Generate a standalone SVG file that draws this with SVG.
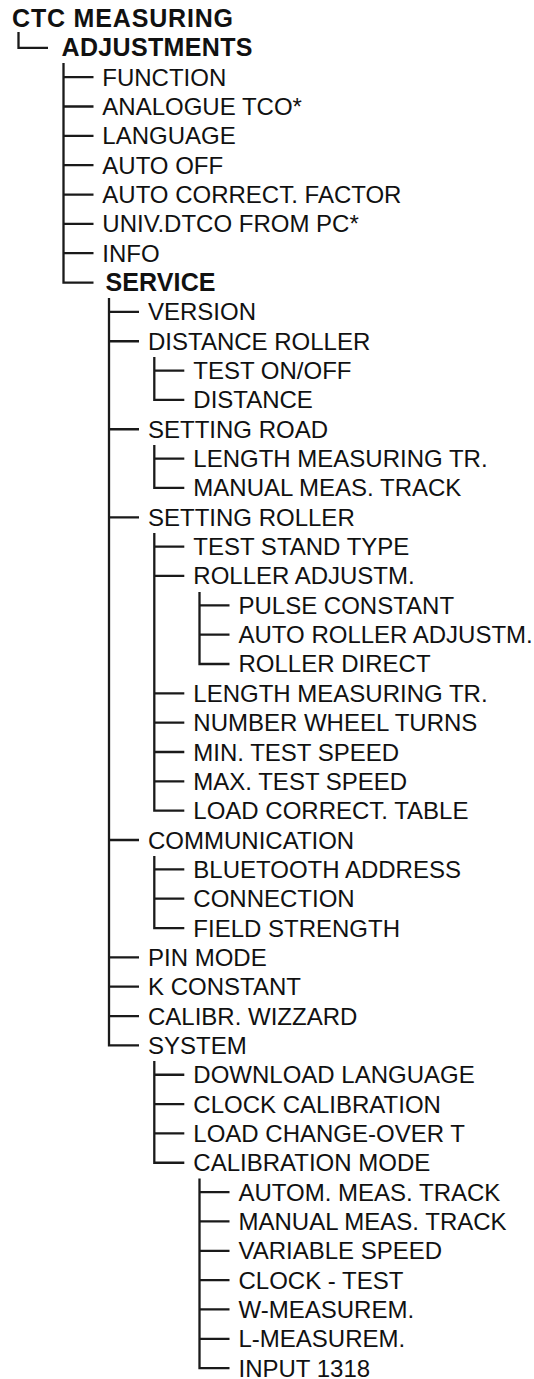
<svg xmlns="http://www.w3.org/2000/svg" width="534" height="1379" viewBox="0 0 534 1379">
<style>
text{font-family:"Liberation Sans",Arial,sans-serif;fill:#111;}
.r{font-size:24px;}
.b{font-size:25px;font-weight:bold;}
#connectors path{fill:none;stroke:#1a1a1a;stroke-width:2.3;stroke-linejoin:miter;}
</style>
<rect width="534" height="1379" fill="#fff"/>
<g id="connectors">
<path d="M18.5 32 V47.84 H48"/>
<path d="M63.5 63 V282.56 H93.5"/>
<path d="M63.5 77.18 H93.5 M63.5 106.52 H93.5 M63.5 135.86 H93.5 M63.5 165.2 H93.5 M63.5 194.54 H93.5 M63.5 223.88 H93.5 M63.5 253.22 H93.5"/>
<path d="M109 298 V1045.4 H139"/>
<path d="M109 311.9 H139 M109 341.24 H139 M109 429.26 H139 M109 517.28 H139 M109 840.02 H139 M109 957.38 H139 M109 986.72 H139 M109 1016.06 H139"/>
<path d="M154.3 357 V399.92 H184.3 M154.3 370.58 H184.3"/>
<path d="M154.3 445 V487.94 H184.3 M154.3 458.6 H184.3"/>
<path d="M154.3 533 V810.68 H184.3 M154.3 546.62 H184.3 M154.3 575.96 H184.3 M154.3 693.32 H184.3 M154.3 722.66 H184.3 M154.3 752 H184.3 M154.3 781.34 H184.3"/>
<path d="M199.5 592 V663.98 H229.5 M199.5 605.3 H229.5 M199.5 634.64 H229.5"/>
<path d="M154.3 856 V928.04 H184.3 M154.3 869.36 H184.3 M154.3 898.7 H184.3"/>
<path d="M154.3 1061 V1162.76 H184.3 M154.3 1074.74 H184.3 M154.3 1104.08 H184.3 M154.3 1133.42 H184.3"/>
<path d="M199.5 1178.5 V1368.14 H229.5 M199.5 1192.1 H229.5 M199.5 1221.44 H229.5 M199.5 1250.78 H229.5 M199.5 1280.12 H229.5 M199.5 1309.46 H229.5 M199.5 1338.8 H229.5"/>
</g>
<g id="n-ctc"><text class="b" x="12" y="27" textLength="221">CTC MEASURING</text></g>
<g id="n-adjustments"><text class="b" x="61.5" y="56.34" textLength="191">ADJUSTMENTS</text></g>
<g id="n-function"><text class="r" x="102.3" y="85.68">FUNCTION</text></g>
<g id="n-analogue"><text class="r" x="102.3" y="115.02">ANALOGUE TCO*</text></g>
<g id="n-language"><text class="r" x="102.3" y="144.36">LANGUAGE</text></g>
<g id="n-autooff"><text class="r" x="102.3" y="173.7">AUTO OFF</text></g>
<g id="n-autocorrect"><text class="r" x="102.3" y="203.04">AUTO CORRECT. FACTOR</text></g>
<g id="n-univ"><text class="r" x="102.3" y="232.38">UNIV.DTCO FROM PC*</text></g>
<g id="n-info"><text class="r" x="102.3" y="261.72">INFO</text></g>
<g id="n-service"><text class="b" x="105.5" y="291.06" textLength="110">SERVICE</text></g>
<g id="n-version"><text class="r" x="148" y="320.4">VERSION</text></g>
<g id="n-distroller"><text class="r" x="148" y="349.74">DISTANCE ROLLER</text></g>
<g id="n-teston"><text class="r" x="193.3" y="379.08">TEST ON/OFF</text></g>
<g id="n-distance"><text class="r" x="193.3" y="408.42">DISTANCE</text></g>
<g id="n-setroad"><text class="r" x="148" y="437.76">SETTING ROAD</text></g>
<g id="n-lenroad"><text class="r" x="193.3" y="467.1">LENGTH MEASURING TR.</text></g>
<g id="n-manroad"><text class="r" x="193.3" y="496.44">MANUAL MEAS. TRACK</text></g>
<g id="n-setroller"><text class="r" x="148" y="525.78">SETTING ROLLER</text></g>
<g id="n-standtype"><text class="r" x="193.3" y="555.12">TEST STAND TYPE</text></g>
<g id="n-rolleradj"><text class="r" x="193.3" y="584.46">ROLLER ADJUSTM.</text></g>
<g id="n-pulse"><text class="r" x="238.5" y="613.8">PULSE CONSTANT</text></g>
<g id="n-autoroller"><text class="r" x="238.5" y="643.14">AUTO ROLLER ADJUSTM.</text></g>
<g id="n-rollerdirect"><text class="r" x="238.5" y="672.48">ROLLER DIRECT</text></g>
<g id="n-lenroller"><text class="r" x="193.3" y="701.82">LENGTH MEASURING TR.</text></g>
<g id="n-wheelturns"><text class="r" x="193.3" y="731.16">NUMBER WHEEL TURNS</text></g>
<g id="n-minspeed"><text class="r" x="193.3" y="760.5">MIN. TEST SPEED</text></g>
<g id="n-maxspeed"><text class="r" x="193.3" y="789.84">MAX. TEST SPEED</text></g>
<g id="n-loadtable"><text class="r" x="193.3" y="819.18">LOAD CORRECT. TABLE</text></g>
<g id="n-comm"><text class="r" x="148" y="848.52">COMMUNICATION</text></g>
<g id="n-bluetooth"><text class="r" x="193.3" y="877.86">BLUETOOTH ADDRESS</text></g>
<g id="n-connection"><text class="r" x="193.3" y="907.2">CONNECTION</text></g>
<g id="n-field"><text class="r" x="193.3" y="936.54">FIELD STRENGTH</text></g>
<g id="n-pin"><text class="r" x="148" y="965.88">PIN MODE</text></g>
<g id="n-kconst"><text class="r" x="148" y="995.22">K CONSTANT</text></g>
<g id="n-wizzard"><text class="r" x="148" y="1024.56">CALIBR. WIZZARD</text></g>
<g id="n-system"><text class="r" x="148" y="1053.9">SYSTEM</text></g>
<g id="n-download"><text class="r" x="193.3" y="1083.24">DOWNLOAD LANGUAGE</text></g>
<g id="n-clockcal"><text class="r" x="193.3" y="1112.58">CLOCK CALIBRATION</text></g>
<g id="n-loadchange"><text class="r" x="193.3" y="1141.92">LOAD CHANGE-OVER T</text></g>
<g id="n-calmode"><text class="r" x="193.3" y="1171.26">CALIBRATION MODE</text></g>
<g id="n-autom"><text class="r" x="238.5" y="1200.6">AUTOM. MEAS. TRACK</text></g>
<g id="n-manual"><text class="r" x="238.5" y="1229.94">MANUAL MEAS. TRACK</text></g>
<g id="n-variable"><text class="r" x="238.5" y="1259.28">VARIABLE SPEED</text></g>
<g id="n-clocktest"><text class="r" x="238.5" y="1288.62">CLOCK - TEST</text></g>
<g id="n-wmeas"><text class="r" x="238.5" y="1317.96">W-MEASUREM.</text></g>
<g id="n-lmeas"><text class="r" x="238.5" y="1347.3">L-MEASUREM.</text></g>
<g id="n-input"><text class="r" x="238.5" y="1376.64">INPUT 1318</text></g>
</svg>
